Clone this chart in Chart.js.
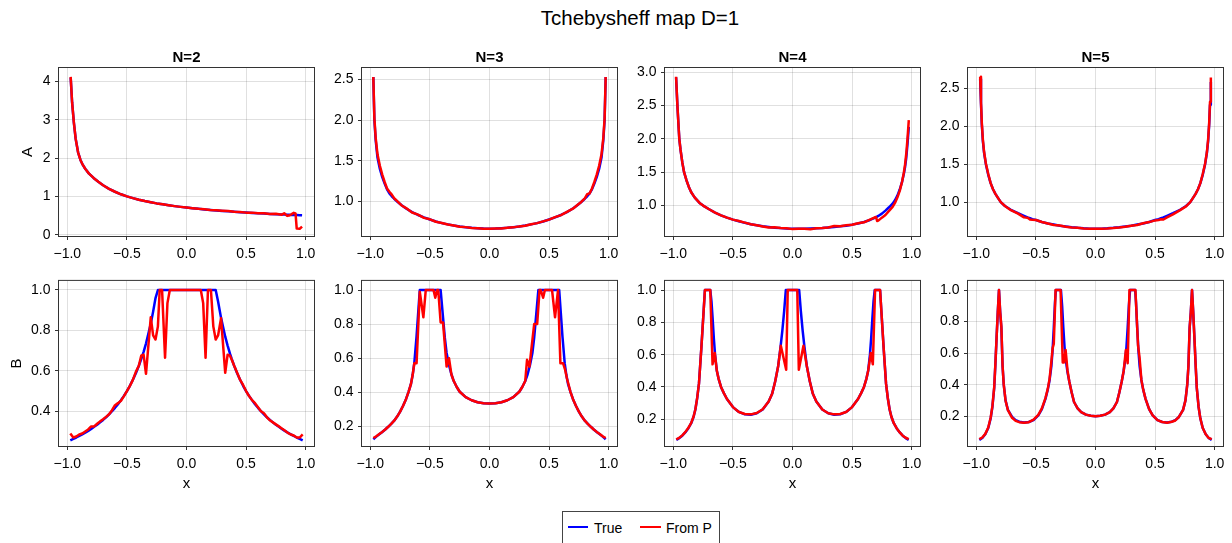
<!DOCTYPE html>
<html>
<head>
<meta charset="utf-8">
<script src="https://cdn.jsdelivr.net/npm/chart.js@4.4.1/dist/chart.umd.min.js"></script>
<style>
  html, body { margin: 0; padding: 0; background: #fff; }
  body { width: 1232px; height: 543px; position: relative; overflow: hidden;
         font-family: "Liberation Sans", Arial, sans-serif; color: #000; }
  canvas { position: absolute; }
  #title { position: absolute; left: 440px; width: 400px; top: 7.6px; text-align: center;
           font-size: 20.5px; line-height: 20.5px; white-space: nowrap; }
  #legend { position: absolute; left: 561.5px; top: 511px; width: 158px; height: 36px;
            border: 1px solid #444; box-sizing: border-box; background: #fff; }
  .sw { position: absolute; height: 2.5px; }
  .lt { position: absolute; font-size: 14px; line-height: 14px; white-space: nowrap; }
</style>
</head>
<body>
<div id="title">Tchebysheff map D=1</div>
<div id="legend"></div>
<script>
// ---- series, axis ticks ----------------------------------------------------
const seriesNames = ['True', 'From P'];
const seriesColors = ['#0000ff', '#ff0000'];
const mapOrders = [2, 3, 4, 5];
const xTicks = [-1.0, -0.5, 0.0, 0.5, 1.0];

const yTicks_A2 = [0, 1, 2, 3, 4];
const yTicks_A3 = [1.0, 1.5, 2.0, 2.5];
const yTicks_A4 = [1.0, 1.5, 2.0, 2.5, 3.0];
const yTicks_A5 = [1.0, 1.5, 2.0, 2.5];
const yTicks_B2 = [0.4, 0.6, 0.8, 1.0];
const yTicks_B = [0.2, 0.4, 0.6, 0.8, 1.0];

// ---- A, N=2 ----
const x_A2 = [-0.972,-0.96,-0.945,-0.93,-0.91,-0.89,-0.87,-0.85,-0.82,-0.78,-0.74,-0.7,-0.65,-0.6,-0.55,-0.5,-0.45,-0.4,-0.35,-0.3,-0.25,-0.2,-0.15,-0.1,-0.05,0,0.05,0.1,0.15,0.2,0.25,0.3,0.35,0.4,0.45,0.5,0.55,0.6,0.65,0.7,0.75,0.8,0.82,0.845,0.86,0.88,0.9,0.915,0.925,0.95,0.97];
const true_A2 = [4.10,3.45,2.92,2.50,2.15,1.95,1.82,1.72,1.60,1.48,1.38,1.29,1.195,1.12,1.054,1.00,0.953,0.913,0.877,0.845,0.816,0.791,0.767,0.745,0.725,0.707,0.690,0.674,0.659,0.645,0.632,0.620,0.609,0.598,0.587,0.577,0.568,0.559,0.550,0.542,0.535,0.527,0.524,0.521,0.519,0.516,0.513,0.511,0.510,0.506,0.504];
const fromP_A2 = [4.12,3.45,2.92,2.50,2.15,1.95,1.82,1.72,1.60,1.48,1.38,1.29,1.195,1.12,1.054,1.00,0.953,0.913,0.877,0.845,0.816,0.791,0.767,0.745,0.725,0.707,0.692,0.674,0.661,0.645,0.634,0.626,0.617,0.596,0.592,0.575,0.575,0.556,0.560,0.540,0.546,0.522,0.560,0.490,0.500,0.530,0.570,0.555,0.160,0.155,0.21];

// ---- A, N=3 ----
const x_A3 = [-0.975,-0.966,-0.955,-0.94,-0.92,-0.9,-0.88,-0.86,-0.84,-0.82,-0.8,-0.77,-0.74,-0.7,-0.65,-0.6,-0.55,-0.5,-0.45,-0.4,-0.35,-0.3,-0.25,-0.2,-0.15,-0.1,-0.05,0,0.05,0.1,0.15,0.2,0.25,0.3,0.35,0.4,0.45,0.5,0.55,0.6,0.65,0.7,0.74,0.77,0.8,0.82,0.84,0.86,0.88,0.9,0.92,0.94,0.955,0.966,0.975];
const true_A3 = [2.53,2.00,1.75,1.54,1.40,1.30,1.22,1.15,1.10,1.065,1.035,0.995,0.958,0.915,0.87,0.835,0.805,0.78,0.755,0.735,0.72,0.705,0.693,0.684,0.677,0.672,0.668,0.667,0.668,0.672,0.677,0.684,0.693,0.705,0.72,0.735,0.755,0.78,0.805,0.835,0.87,0.915,0.958,0.995,1.035,1.065,1.10,1.15,1.22,1.30,1.40,1.54,1.75,2.00,2.53];
const fromP_A3 = [2.53,2.02,1.78,1.58,1.44,1.33,1.24,1.16,1.12,1.085,1.04,1.0,0.955,0.92,0.865,0.84,0.80,0.782,0.752,0.737,0.718,0.707,0.69,0.686,0.675,0.673,0.666,0.665,0.668,0.670,0.678,0.683,0.695,0.703,0.722,0.735,0.757,0.778,0.808,0.833,0.872,0.912,0.96,0.995,1.04,1.09,1.10,1.16,1.24,1.33,1.44,1.58,1.78,2.02,2.53];

// ---- A, N=4 ----
const x_A4 = [-0.977,-0.966,-0.955,-0.95,-0.94,-0.925,-0.91,-0.89,-0.87,-0.85,-0.82,-0.78,-0.75,-0.7,-0.65,-0.6,-0.55,-0.5,-0.45,-0.4,-0.35,-0.3,-0.25,-0.2,-0.15,-0.1,-0.05,0,0.05,0.1,0.15,0.2,0.25,0.3,0.35,0.4,0.45,0.5,0.55,0.6,0.65,0.7,0.71,0.72,0.75,0.78,0.81,0.84,0.86,0.88,0.9,0.92,0.935,0.945,0.955,0.965,0.976];
const true_A4 = [2.92,2.50,2.15,2.00,1.84,1.65,1.50,1.38,1.28,1.20,1.12,1.04,1.00,0.945,0.895,0.855,0.82,0.79,0.765,0.742,0.722,0.705,0.69,0.68,0.67,0.663,0.658,0.655,0.653,0.654,0.657,0.661,0.666,0.673,0.681,0.69,0.70,0.715,0.733,0.755,0.785,0.825,0.835,0.845,0.88,0.925,0.975,1.03,1.08,1.15,1.24,1.36,1.48,1.58,1.72,1.92,2.18];
const fromP_A4 = [2.93,2.50,2.15,2.00,1.84,1.65,1.50,1.38,1.28,1.20,1.12,1.04,1.00,0.945,0.895,0.855,0.82,0.79,0.77,0.745,0.72,0.705,0.688,0.672,0.675,0.664,0.66,0.648,0.652,0.655,0.645,0.66,0.665,0.672,0.695,0.69,0.705,0.713,0.735,0.75,0.79,0.83,0.77,0.775,0.82,0.86,0.92,0.98,1.04,1.12,1.22,1.36,1.50,1.62,1.78,2.0,2.28];

// ---- A, N=5 ----
const x_A5 = [-0.968,-0.961,-0.954,-0.945,-0.935,-0.92,-0.9,-0.88,-0.86,-0.84,-0.82,-0.795,-0.76,-0.71,-0.65,-0.6,-0.57,-0.55,-0.53,-0.5,-0.45,-0.4,-0.35,-0.3,-0.25,-0.2,-0.15,-0.1,-0.05,0,0.05,0.1,0.15,0.2,0.25,0.3,0.35,0.4,0.45,0.5,0.53,0.55,0.57,0.6,0.65,0.71,0.76,0.795,0.82,0.84,0.86,0.88,0.9,0.92,0.935,0.945,0.954,0.961,0.968];
const true_A5 = [2.62,2.30,2.02,1.80,1.65,1.50,1.36,1.25,1.17,1.11,1.06,1.00,0.95,0.90,0.855,0.82,0.80,0.79,0.777,0.765,0.74,0.72,0.705,0.69,0.68,0.67,0.662,0.656,0.652,0.65,0.652,0.656,0.662,0.67,0.68,0.69,0.705,0.72,0.74,0.765,0.777,0.79,0.80,0.82,0.855,0.90,0.95,1.00,1.06,1.11,1.17,1.25,1.36,1.50,1.65,1.80,2.02,2.28,2.58];
const fromP_A5 = [2.65,2.32,2.04,1.82,1.66,1.51,1.37,1.25,1.17,1.11,1.06,1.00,0.95,0.895,0.85,0.80,0.795,0.772,0.768,0.765,0.74,0.72,0.70,0.692,0.678,0.668,0.662,0.655,0.652,0.65,0.652,0.655,0.66,0.668,0.678,0.69,0.70,0.722,0.738,0.76,0.765,0.775,0.772,0.80,0.84,0.895,0.945,1.00,1.06,1.11,1.17,1.25,1.37,1.51,1.66,1.82,2.04,2.32,2.64];

// ---- B, N=2 ----
const x_B2 = [-0.975,-0.95,-0.925,-0.9,-0.875,-0.85,-0.825,-0.8,-0.775,-0.75,-0.725,-0.7,-0.675,-0.65,-0.625,-0.6,-0.575,-0.55,-0.525,-0.5,-0.475,-0.45,-0.425,-0.4,-0.38,-0.36,-0.34,-0.3,-0.28,-0.26,-0.24,-0.225,-0.205,-0.18,-0.16,-0.14,-0.1,-0.05,0,0.05,0.1,0.12,0.14,0.16,0.18,0.205,0.225,0.245,0.265,0.29,0.325,0.345,0.365,0.38,0.4,0.425,0.45,0.475,0.5,0.525,0.55,0.575,0.6,0.625,0.65,0.675,0.7,0.725,0.75,0.775,0.8,0.825,0.85,0.875,0.9,0.925,0.95,0.975];
const true_B2 = [0.256,0.263,0.270,0.278,0.286,0.294,0.303,0.3125,0.323,0.333,0.345,0.357,0.370,0.385,0.40,0.417,0.435,0.455,0.476,0.50,0.526,0.556,0.588,0.625,0.658,0.694,0.735,0.833,0.893,0.96,1,1,1,1,1,1,1,1,1,1,1,1,1,1,1,1,1,1,0.943,0.862,0.769,0.725,0.685,0.658,0.625,0.588,0.556,0.526,0.50,0.476,0.455,0.435,0.417,0.40,0.385,0.370,0.357,0.345,0.333,0.323,0.3125,0.303,0.294,0.286,0.278,0.270,0.263,0.256];
const fromP_B2 = [0.29,0.27,0.275,0.285,0.29,0.30,0.31,0.325,0.325,0.338,0.35,0.36,0.372,0.385,0.405,0.43,0.44,0.452,0.475,0.50,0.525,0.555,0.595,0.625,0.675,0.68,0.585,0.865,0.775,0.755,0.82,1.0,1.0,0.665,0.935,1.0,1.0,1.0,1.0,1.0,1.0,1.0,0.935,0.665,1.0,1.0,0.82,0.755,0.775,0.86,0.59,0.68,0.675,0.655,0.625,0.59,0.555,0.53,0.50,0.475,0.455,0.44,0.42,0.40,0.39,0.37,0.355,0.345,0.335,0.325,0.315,0.305,0.293,0.285,0.28,0.27,0.27,0.285];

// ---- B, N=3 ----
const xTrue_B3 = [-0.975,-0.95,-0.925,-0.9,-0.875,-0.85,-0.825,-0.8,-0.775,-0.75,-0.725,-0.7,-0.68,-0.66,-0.645,-0.631,-0.612,-0.6,-0.585,-0.5,-0.41,-0.39,-0.375,-0.36,-0.34,-0.32,-0.3,-0.275,-0.25,-0.2,-0.15,-0.1,-0.05,0,0.05,0.1,0.15,0.2,0.25,0.275,0.3,0.32,0.34,0.36,0.375,0.39,0.41,0.5,0.585,0.6,0.612,0.631,0.645,0.66,0.68,0.7,0.725,0.75,0.775,0.8,0.825,0.85,0.875,0.9,0.925,0.95,0.975];
const true_B3 = [0.123,0.138,0.152,0.165,0.18,0.196,0.213,0.232,0.256,0.285,0.32,0.36,0.40,0.445,0.50,0.57,0.73,0.85,1.0,1.0,1.0,0.84,0.72,0.63,0.56,0.505,0.465,0.43,0.402,0.37,0.352,0.34,0.335,0.333,0.335,0.34,0.352,0.37,0.402,0.43,0.465,0.505,0.56,0.63,0.72,0.84,1.0,1.0,1.0,0.85,0.73,0.57,0.50,0.445,0.40,0.36,0.32,0.285,0.256,0.232,0.213,0.196,0.18,0.165,0.152,0.138,0.123];
const xFromP_B3 = [-0.975,-0.95,-0.925,-0.9,-0.875,-0.85,-0.825,-0.8,-0.775,-0.75,-0.725,-0.7,-0.68,-0.66,-0.645,-0.631,-0.612,-0.585,-0.555,-0.535,-0.47,-0.455,-0.44,-0.43,-0.41,-0.39,-0.36,-0.34,-0.32,-0.3,-0.275,-0.25,-0.2,-0.15,-0.1,-0.05,0,0.05,0.1,0.15,0.2,0.25,0.275,0.3,0.315,0.335,0.375,0.40,0.42,0.43,0.45,0.465,0.525,0.55,0.575,0.595,0.617,0.635,0.65,0.665,0.68,0.7,0.725,0.75,0.775,0.8,0.825,0.85,0.875,0.9,0.925,0.95,0.975];
const fromP_B3 = [0.13,0.14,0.153,0.166,0.18,0.196,0.213,0.232,0.256,0.285,0.32,0.36,0.40,0.445,0.50,0.57,0.57,0.99,0.84,1.0,1.0,0.955,1.0,1.0,0.81,0.81,0.55,0.60,0.505,0.465,0.43,0.402,0.37,0.352,0.34,0.335,0.333,0.335,0.34,0.352,0.37,0.402,0.43,0.465,0.59,0.55,0.80,0.80,1.0,1.0,0.955,1.0,1.0,0.84,1.0,0.57,0.57,0.53,0.48,0.44,0.40,0.36,0.32,0.285,0.256,0.232,0.213,0.196,0.18,0.166,0.153,0.14,0.13];

// ---- B, N=4 ----
const xTrue_B4 = [-0.975,-0.95,-0.925,-0.9,-0.875,-0.85,-0.83,-0.815,-0.8,-0.785,-0.775,-0.765,-0.755,-0.745,-0.735,-0.69,-0.68,-0.67,-0.66,-0.65,-0.635,-0.62,-0.6,-0.575,-0.55,-0.5,-0.45,-0.4,-0.35,-0.3,-0.25,-0.2,-0.17,-0.145,-0.12,-0.1,-0.085,-0.07,-0.056,0.056,0.07,0.085,0.1,0.12,0.145,0.17,0.2,0.25,0.3,0.35,0.4,0.45,0.5,0.55,0.575,0.6,0.62,0.635,0.65,0.66,0.67,0.68,0.69,0.735,0.745,0.755,0.765,0.775,0.785,0.8,0.815,0.83,0.85,0.875,0.9,0.925,0.95,0.975];
const true_B4 = [0.072,0.083,0.098,0.118,0.143,0.175,0.215,0.26,0.33,0.42,0.53,0.64,0.76,0.88,1.0,1.0,0.93,0.82,0.70,0.60,0.50,0.45,0.40,0.36,0.325,0.275,0.245,0.23,0.228,0.237,0.26,0.31,0.36,0.435,0.53,0.65,0.75,0.87,1.0,1.0,0.87,0.75,0.65,0.53,0.435,0.36,0.31,0.26,0.237,0.228,0.23,0.245,0.275,0.325,0.36,0.40,0.45,0.50,0.60,0.70,0.82,0.93,1.0,1.0,0.88,0.76,0.64,0.53,0.42,0.33,0.26,0.215,0.175,0.143,0.118,0.098,0.083,0.072];
const xFromP_B4 = [-0.975,-0.95,-0.925,-0.9,-0.875,-0.85,-0.83,-0.815,-0.8,-0.785,-0.775,-0.765,-0.755,-0.745,-0.735,-0.69,-0.671,-0.652,-0.635,-0.62,-0.6,-0.575,-0.55,-0.5,-0.45,-0.4,-0.35,-0.3,-0.25,-0.2,-0.17,-0.145,-0.12,-0.098,-0.053,-0.04,0.04,0.053,0.092,0.12,0.145,0.17,0.2,0.25,0.3,0.35,0.4,0.45,0.5,0.55,0.575,0.6,0.62,0.635,0.657,0.674,0.693,0.735,0.745,0.755,0.765,0.775,0.785,0.8,0.815,0.83,0.85,0.875,0.9,0.925,0.95,0.975];
const fromP_B4 = [0.075,0.085,0.10,0.12,0.145,0.177,0.217,0.262,0.332,0.42,0.53,0.64,0.76,0.88,1.0,1.0,0.54,0.61,0.50,0.45,0.40,0.36,0.325,0.275,0.245,0.232,0.23,0.238,0.262,0.31,0.36,0.435,0.53,0.655,0.506,1.0,1.0,0.506,0.655,0.53,0.435,0.36,0.31,0.26,0.237,0.23,0.232,0.245,0.275,0.325,0.36,0.40,0.45,0.50,0.61,0.54,1.0,1.0,0.88,0.76,0.64,0.53,0.42,0.33,0.26,0.215,0.175,0.143,0.118,0.098,0.085,0.077];

// ---- B, N=5 ----
const xTrue_B5 = [-0.975,-0.95,-0.925,-0.9,-0.88,-0.865,-0.85,-0.84,-0.83,-0.82,-0.81,-0.8,-0.79,-0.78,-0.77,-0.755,-0.735,-0.7,-0.67,-0.64,-0.6,-0.56,-0.52,-0.48,-0.45,-0.42,-0.4,-0.385,-0.37,-0.36,-0.35,-0.34,-0.333,-0.29,-0.28,-0.27,-0.26,-0.25,-0.235,-0.22,-0.2,-0.18,-0.15,-0.12,-0.08,-0.04,0,0.04,0.08,0.12,0.15,0.18,0.2,0.22,0.235,0.25,0.26,0.27,0.28,0.29,0.333,0.34,0.35,0.36,0.37,0.385,0.4,0.42,0.45,0.48,0.52,0.56,0.6,0.64,0.67,0.7,0.735,0.755,0.77,0.78,0.79,0.8,0.81,0.82,0.83,0.84,0.85,0.865,0.88,0.9,0.925,0.95,0.975];
const true_B5 = [0.05,0.062,0.085,0.125,0.185,0.26,0.38,0.53,0.70,0.86,1.0,0.86,0.76,0.52,0.40,0.30,0.24,0.195,0.175,0.165,0.16,0.163,0.175,0.205,0.245,0.31,0.37,0.43,0.52,0.62,0.76,0.92,1.0,1.0,0.90,0.76,0.64,0.56,0.48,0.42,0.35,0.29,0.25,0.226,0.21,0.203,0.20,0.203,0.21,0.226,0.25,0.29,0.35,0.42,0.48,0.56,0.64,0.76,0.90,1.0,1.0,0.92,0.76,0.62,0.52,0.43,0.37,0.31,0.245,0.205,0.175,0.163,0.16,0.165,0.175,0.195,0.24,0.30,0.40,0.52,0.76,0.86,1.0,0.86,0.70,0.53,0.38,0.26,0.185,0.125,0.085,0.062,0.05];
const xFromP_B5 = [-0.975,-0.95,-0.925,-0.9,-0.88,-0.865,-0.85,-0.84,-0.83,-0.82,-0.81,-0.8,-0.79,-0.78,-0.77,-0.755,-0.735,-0.7,-0.67,-0.64,-0.6,-0.56,-0.52,-0.48,-0.45,-0.42,-0.4,-0.385,-0.37,-0.36,-0.35,-0.335,-0.293,-0.275,-0.265,-0.251,-0.235,-0.22,-0.2,-0.18,-0.15,-0.12,-0.08,-0.04,0,0.04,0.08,0.12,0.15,0.18,0.2,0.22,0.237,0.255,0.27,0.285,0.335,0.357,0.37,0.385,0.4,0.42,0.45,0.48,0.52,0.56,0.6,0.64,0.67,0.7,0.735,0.755,0.77,0.78,0.79,0.8,0.81,0.82,0.83,0.84,0.85,0.865,0.88,0.9,0.925,0.95,0.975];
const fromP_B5 = [0.055,0.065,0.088,0.128,0.19,0.265,0.385,0.535,0.70,0.86,1.0,0.86,0.77,0.52,0.40,0.30,0.238,0.19,0.17,0.162,0.158,0.162,0.178,0.208,0.25,0.315,0.375,0.44,0.55,0.63,0.66,1.0,1.0,0.54,0.54,0.62,0.49,0.42,0.35,0.29,0.25,0.226,0.21,0.203,0.20,0.203,0.21,0.226,0.25,0.29,0.35,0.42,0.49,0.62,0.536,1.0,1.0,0.65,0.57,0.43,0.37,0.31,0.245,0.205,0.175,0.163,0.158,0.165,0.173,0.195,0.24,0.30,0.40,0.52,0.76,0.86,1.0,0.86,0.70,0.53,0.38,0.26,0.185,0.125,0.085,0.062,0.055];

// ---- panel table: which arrays go where ----
const panels = [
  { row: 0, col: 0, n: mapOrders[0], ylabel: 'A', xT: x_A2, yT: true_A2, xP: x_A2, yP: fromP_A2, yMin: -0.035, yMax: 4.35, yTicks: yTicks_A2, digits: 0 },
  { row: 0, col: 1, n: mapOrders[1], ylabel: '',  xT: x_A3, yT: true_A3, xP: x_A3, yP: fromP_A3, yMin: 0.577, yMax: 2.64, yTicks: yTicks_A3, digits: 1 },
  { row: 0, col: 2, n: mapOrders[2], ylabel: '',  xT: x_A4, yT: true_A4, xP: x_A4, yP: fromP_A4, yMin: 0.545, yMax: 3.06, yTicks: yTicks_A4, digits: 1 },
  { row: 0, col: 3, n: mapOrders[3], ylabel: '',  xT: x_A5, yT: true_A5, xP: x_A5, yP: fromP_A5, yMin: 0.555, yMax: 2.765, yTicks: yTicks_A5, digits: 1 },
  { row: 1, col: 0, n: mapOrders[0], ylabel: 'B', xT: x_B2, yT: true_B2, xP: x_B2, yP: fromP_B2, yMin: 0.228, yMax: 1.045, yTicks: yTicks_B2, digits: 1 },
  { row: 1, col: 1, n: mapOrders[1], ylabel: '',  xT: xTrue_B3, yT: true_B3, xP: xFromP_B3, yP: fromP_B3, yMin: 0.083, yMax: 1.054, yTicks: yTicks_B, digits: 1 },
  { row: 1, col: 2, n: mapOrders[2], ylabel: '',  xT: xTrue_B4, yT: true_B4, xP: xFromP_B4, yP: fromP_B4, yMin: 0.034, yMax: 1.057, yTicks: yTicks_B, digits: 1 },
  { row: 1, col: 3, n: mapOrders[3], ylabel: '',  xT: xTrue_B5, yT: true_B5, xP: xFromP_B5, yP: fromP_B5, yMin: 0.011, yMax: 1.058, yTicks: yTicks_B, digits: 1 },
];

// ---- styling / grid geometry ----
const FONT = '"Liberation Sans", Arial, sans-serif';
const INK = '#000000';
const FRAME = '#333333';
const GRID = 'rgba(0,0,0,0.12)';
const plotLeft = [59, 362, 665, 968];
const plotTop = [68, 278];
const PW = 255, PH = 168, PR = 16;

function fmt(v, digits) {
  const s = Math.abs(v).toFixed(digits);
  return (v < -1e-9 ? '\u2212' : '') + s;
}
function toPoints(xs, ys) {
  return xs.map((x, i) => ({ x: x, y: ys[i] }));
}

const framePlugin = {
  id: 'frame',
  afterDraw(chart) {
    const { ctx, chartArea: a } = chart;
    ctx.save();
    ctx.strokeStyle = FRAME;
    ctx.lineWidth = 1;
    ctx.strokeRect(a.left - 0.5, a.top - 0.5, a.right - a.left + 1, a.bottom - a.top + 1);
    ctx.restore();
  }
};

panels.forEach(p => {
  const yw = p.col === 0 ? 59 : 50;
  const topPad = p.row === 0 ? 19 : 10;
  const xh = p.row === 0 ? 30 : 52;
  const cv = document.createElement('canvas');
  cv.width = yw + PW + PR;
  cv.height = topPad + PH + xh;
  cv.style.width = cv.width + 'px';
  cv.style.height = cv.height + 'px';
  cv.style.left = (plotLeft[p.col] - yw) + 'px';
  cv.style.top = (plotTop[p.row] - topPad) + 'px';
  document.body.appendChild(cv);

  new Chart(cv, {
    type: 'line',
    data: {
      datasets: [
        { label: seriesNames[0], data: toPoints(p.xT, p.yT), borderColor: seriesColors[0],
          borderWidth: 2.5, pointRadius: 0, tension: 0, fill: false, order: 1,
          borderJoinStyle: 'round' },
        { label: seriesNames[1], data: toPoints(p.xP, p.yP), borderColor: seriesColors[1],
          borderWidth: 2.5, pointRadius: 0, tension: 0, fill: false, order: 0,
          borderJoinStyle: 'round' }
      ]
    },
    options: {
      responsive: false,
      animation: false,
      devicePixelRatio: 1,
      layout: { padding: { left: 0, right: PR, top: p.row === 0 ? 0 : topPad, bottom: 0 } },
      plugins: {
        legend: { display: false },
        tooltip: { enabled: false },
        title: {
          display: p.row === 0,
          text: 'N=' + p.n,
          fullSize: false,
          color: INK,
          font: { family: FONT, size: 15, weight: 'bold', lineHeight: 1.2 },
          padding: { top: 0, bottom: 1 }
        }
      },
      scales: {
        x: {
          type: 'linear',
          min: -1.07, max: 1.07,
          afterBuildTicks: s => { s.ticks = xTicks.map(v => ({ value: v })); },
          afterFit: s => { s.height = xh; },
          ticks: { autoSkip: false, maxRotation: 0, padding: 6, color: INK,
                   font: { family: FONT, size: 14 }, callback: v => fmt(v, 1) },
          grid: { color: GRID, lineWidth: 1, drawTicks: true, tickLength: 4,
                  tickColor: FRAME, tickWidth: 1 },
          border: { display: false },
          title: { display: p.row === 1, text: 'x', color: INK,
                   font: { family: FONT, size: 15, lineHeight: 1.2 },
                   padding: { top: 0, bottom: 4.7 } }
        },
        y: {
          type: 'linear',
          min: p.yMin, max: p.yMax,
          afterBuildTicks: s => { s.ticks = p.yTicks.map(v => ({ value: v })); },
          afterFit: s => { s.width = yw; },
          ticks: { autoSkip: false, padding: 4.5, color: INK,
                   font: { family: FONT, size: 14 }, callback: v => fmt(v, p.digits) },
          grid: { color: GRID, lineWidth: 1, drawTicks: true, tickLength: 4,
                  tickColor: FRAME, tickWidth: 1 },
          border: { display: false },
          title: { display: p.ylabel !== '', text: p.ylabel, color: INK,
                   font: { family: FONT, size: 15, lineHeight: 1.2 },
                   padding: { top: p.ylabel === 'A' ? 19.2 : 7.4, bottom: 0 } }
        }
      }
    },
    plugins: [framePlugin]
  });
});

// ---- legend below the panels ----
const legend = document.getElementById('legend');
const swLeft = [5.5, 77.5], txtLeft = [31.5, 103.5], swWidth = [20, 21];
seriesNames.forEach((name, i) => {
  const sw = document.createElement('div');
  sw.className = 'sw';
  sw.style.left = swLeft[i] + 'px';
  sw.style.top = '13.75px';
  sw.style.width = swWidth[i] + 'px';
  sw.style.background = seriesColors[i];
  legend.appendChild(sw);
  const t = document.createElement('div');
  t.className = 'lt';
  t.style.left = txtLeft[i] + 'px';
  t.style.top = '9.45px';
  t.textContent = name;
  legend.appendChild(t);
});
</script>
</body>
</html>
